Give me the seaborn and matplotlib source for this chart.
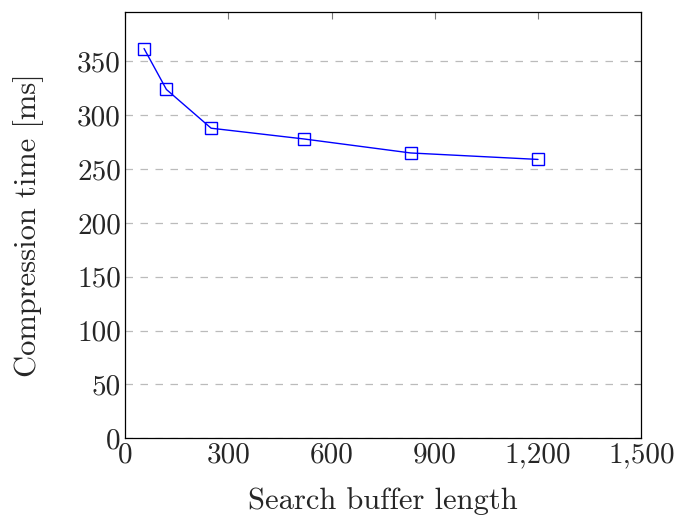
import matplotlib
matplotlib.use("Agg")
import matplotlib.pyplot as plt
import seaborn as sns
import pandas as pd
from matplotlib.ticker import FuncFormatter, MultipleLocator

# values
buffer_len = [55, 120, 250, 520, 830, 1200]
comp_time = [362, 324, 288, 278, 265, 259]

sns.set_style("white")
plt.rcParams["font.family"] = "serif"
plt.rcParams["font.serif"] = ["cmr10", "DejaVu Serif"]
plt.rcParams["mathtext.fontset"] = "cm"
plt.rcParams["axes.formatter.use_mathtext"] = True

df = pd.DataFrame({"len": buffer_len, "time": comp_time})

fig = plt.figure(figsize=(6.8, 5.21), dpi=100)
ax = fig.add_axes([0.184, 0.159, 0.759, 0.818])

sns.lineplot(data=df, x="len", y="time", ax=ax, color="blue", linewidth=1,
             marker="s", markersize=8, markerfacecolor="none",
             markeredgecolor="blue", markeredgewidth=1)

ax.set_xlim(0, 1500)
ax.set_ylim(0, 396)
ax.xaxis.set_major_locator(MultipleLocator(300))
ax.yaxis.set_major_locator(MultipleLocator(50))
ax.xaxis.set_major_formatter(FuncFormatter(lambda v, p: f"{v:,.0f}"))
ax.yaxis.set_major_formatter(FuncFormatter(lambda v, p: f"{v:.0f}"))

ax.yaxis.grid(True, linestyle=(0, (6, 6)), color="#bbbbbb", linewidth=0.9)
ax.xaxis.grid(False)
ax.set_axisbelow(True)
for s in ax.spines.values():
    s.set_color("black")
    s.set_linewidth(0.9)

ax.tick_params(direction="in", length=5, width=0.8, color="#777777",
               top=True, right=True, labelsize=21, pad=3)

ax.set_xlabel("Search buffer length", fontsize=22, labelpad=13)
ax.set_ylabel("Compression time [ms]", fontsize=22, labelpad=24)

fig.savefig("out.png", dpi=100)
